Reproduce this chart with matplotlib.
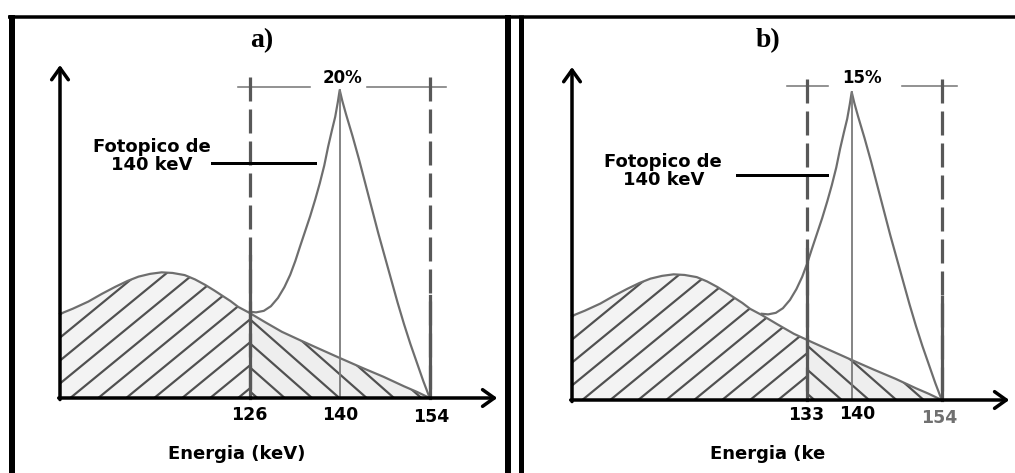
import numpy as np
import matplotlib
matplotlib.use("Agg")
import matplotlib.pyplot as plt
from matplotlib.patches import Polygon
from matplotlib.lines import Line2D

plt.rcParams['lines.scale_dashes'] = False
plt.rcParams['font.family'] = ['DejaVu Sans']

# Energy spectrum of Tc-99m (keV vs counts, photopeak maximum = 100)
scatter_kev = [96.5, 98.5, 100.9, 103.0, 105.1, 107.0, 108.7, 110.5, 112.3, 114.0,
               115.9, 117.5, 119.1, 120.5, 121.6, 123.0, 124.2, 126.0, 128.5, 131.0,
               133.8, 137.0, 140.0, 143.5, 146.8, 150.0, 152.0, 154.0]
scatter_cnt = [27.3, 29.0, 31.3, 33.8, 36.1, 38.0, 39.4, 40.3, 40.8, 40.6,
               39.9, 38.5, 36.7, 34.9, 33.4, 31.5, 29.6, 27.6, 24.5, 21.5,
               18.8, 15.8, 13.0, 9.8, 6.9, 3.8, 2.0, 0.0]

peak_kev = [126.0, 127.0, 128.2, 129.3, 130.4, 131.4, 132.3, 133.1, 133.8, 134.6,
            135.4, 136.2, 136.9, 137.6, 138.2, 138.8, 139.3, 139.7, 140.0, 140.4,
            141.0, 142.0, 143.0, 144.0, 145.0, 146.0, 147.0, 148.0, 149.0, 150.0,
            151.0, 152.0, 153.0, 154.0]
peak_cnt = [28.0, 27.8, 28.3, 29.8, 32.5, 36.0, 40.0, 44.5, 49.0, 54.0,
            59.0, 64.5, 69.7, 75.5, 81.6, 87.0, 91.3, 96.0, 100.0, 96.5,
            92.0, 85.0, 77.5, 69.5, 61.5, 53.5, 46.0, 38.5, 31.0, 24.0,
            17.5, 11.5, 5.5, 0.0]

# energy windows shown in each panel
panel_titles = ["a)", "b)"]
window_lo = [126, 133]
window_hi = [154, 154]
window_pct = ["20%", "15%"]
photopeak = 140
tick_labels = [["126", "140", "154"], ["133", "140", "154"]]
tick_colors = [["black", "black", "black"], ["black", "black", "#707070"]]
xlabels = ["Energia (keV)", "Energia (ke"]

# layout (pixels)
W, H = 1015, 473
KEV0 = 96.5       # energy at the vertical axis
KEV_PX = 6.43     # pixels per keV
CNT_PX = 3.08     # pixels per count unit
panel_left = [0, 512]
panel_right = [512, 1015]
yaxis_px = [60, 572]
xaxis_px = [398, 400]

# per-panel placement of annotations (data units)
solid_lo = [46, 49]
solid_hi = [33, 33.4]
bar_left = [(124.2, 135.4), (129.9, 136.3)]
bar_right = [(144.2, 156.5), (147.8, 156.4)]
bar_y = [101.1, 102.0]
pct_xy = [(140.4, 103.9), (141.6, 104.7)]
title_xy = [(127.9, 116.0), (127.0, 116.7)]
foto_xy = [(110.8, 78.6), (110.7, 74.5)]
foto_line = [(120.1, 136.2, 76.3), (122.2, 136.2, 73.0)]
tick_pos = [[(126.0, -5.5), (140.0, -5.5), (154.2, -6.2)],
            [(132.9, -4.9), (140.8, -4.5), (153.6, -5.9)]]
xlabel_xy = [(113.3, -18.2), (118.0, -17.5)]


def pt(p):
    return p * 0.72


CURVE = "#6e6e6e"
HATCH = "#505050"
DASH = "#585858"
THIN = "#7a7a7a"

fig = plt.figure(figsize=(W / 100, H / 100), dpi=100)
fig.patch.set_facecolor("white")

sk = np.array(scatter_kev)
sc = np.array(scatter_cnt)

for i in range(2):
    left, right = panel_left[i], panel_right[i]
    ax = fig.add_axes([left / W, 0, (right - left) / W, 1])
    ax.set_axis_off()
    x0 = KEV0 - (yaxis_px[i] - left) / KEV_PX
    ax.set_xlim(x0, x0 + (right - left) / KEV_PX)
    ax.set_ylim(-(H - xaxis_px[i]) / CNT_PX, xaxis_px[i] / CNT_PX)

    lo, hi = window_lo[i], window_hi[i]
    c_lo = np.interp(lo, sk, sc)

    # areas under the scatter curve, split at the lower window edge
    m = sk < lo
    left_pts = [(KEV0, 0)] + list(zip(sk[m], sc[m])) + [(lo, c_lo), (lo, 0)]
    m = (sk > lo) & (sk <= hi)
    right_pts = [(lo, 0), (lo, c_lo)] + list(zip(sk[m], sc[m])) + [(hi, 0)]
    poly_l = Polygon(left_pts, closed=True, fc="#f3f3f3", ec="none", zorder=1)
    poly_r = Polygon(right_pts, closed=True, fc="#eeeeee", ec="none", zorder=1)
    ax.add_patch(poly_l)
    ax.add_patch(poly_r)

    # hatching
    s1 = 0.82 * KEV_PX / CNT_PX
    for xi in np.arange(98.1 - 4.35 * 12, lo + 1, 4.35):
        ln, = ax.plot([xi, xi + 60 / s1], [0, 60], color=HATCH, lw=pt(2.2), zorder=2)
        ln.set_clip_path(poly_l)
    s2 = 0.88 * KEV_PX / CNT_PX
    for xi in np.arange(lo + (135.7 - 126) - 4.25 * 3, hi + 10, 4.25):
        ln, = ax.plot([xi, xi - 60 / s2], [0, 60], color=HATCH, lw=pt(2.2), zorder=2)
        ln.set_clip_path(poly_r)

    # spectrum curves
    ax.plot(sk, sc, color=CURVE, lw=pt(2.2), zorder=3, solid_joinstyle="round")
    ax.plot(peak_kev, peak_cnt, color=CURVE, lw=pt(2.2), zorder=3,
            solid_joinstyle="round")

    # photopeak centre line
    ax.plot([photopeak, photopeak], [0, 100], color=THIN, lw=pt(1.8), zorder=3)

    # window edges: dashed above, solid near the base
    for e, s in ((lo, solid_lo[i]), (hi, solid_hi[i])):
        ax.plot([e, e], [104.2, 0], color=DASH, lw=pt(3.2),
                ls=(0, (pt(24), pt(8))), zorder=4)
        ax.plot([e, e], [s, 0], color=DASH, lw=pt(3.2), zorder=4)

    # window width bar
    ax.plot(bar_left[i], [bar_y[i]] * 2, color=THIN, lw=pt(1.6), zorder=3)
    ax.plot(bar_right[i], [bar_y[i]] * 2, color=THIN, lw=pt(1.6), zorder=3)
    ax.text(*pct_xy[i], window_pct[i], ha="center", va="center",
            fontsize=12, fontweight="bold")

    # axes with open arrow heads
    arrow = dict(arrowstyle="->,head_length=0.7,head_width=0.5", lw=pt(3.5),
                 color="black", shrinkA=0, shrinkB=0, mutation_scale=12)
    ax.annotate("", xy=(KEV0, 108.1), xytext=(KEV0, -0.5), arrowprops=arrow, zorder=6)
    ax.annotate("", xy=(164.5, 0), xytext=(KEV0 - 0.2, 0), arrowprops=arrow, zorder=6)

    for lab, (tx, ty), col in zip(tick_labels[i], tick_pos[i], tick_colors[i]):
        ax.text(tx, ty, lab, ha="center", va="center", fontsize=12.5,
                fontweight="bold", color=col)
    ax.text(*xlabel_xy[i], xlabels[i], ha="left", va="center", fontsize=13,
            fontweight="bold")

    # photopeak label with leader line
    ax.text(*foto_xy[i], "Fotopico de\n140 keV", ha="center", va="center",
            multialignment="center", fontsize=13, fontweight="bold", linespacing=1.0)
    fx0, fx1, fy = foto_line[i]
    ax.plot([fx0, fx1], [fy, fy], color="black", lw=pt(3), zorder=5)

    ax.text(*title_xy[i], panel_titles[i], ha="center", va="center", fontsize=20,
            fontweight="bold", family="Liberation Serif")


# panel frames
def fline(xs, ys, lw):
    fig.add_artist(Line2D([x / W for x in xs], [1 - y / H for y in ys],
                          color="black", lw=pt(lw), solid_capstyle="butt"))


fline([8, 1015], [16.7, 16.7], 3.5)
fline([12, 12], [15, 473], 6)
fline([508.5, 508.5], [15, 473], 6)
fline([521, 521], [15, 473], 5)

fig.savefig("out.png", dpi=100, facecolor="white")
